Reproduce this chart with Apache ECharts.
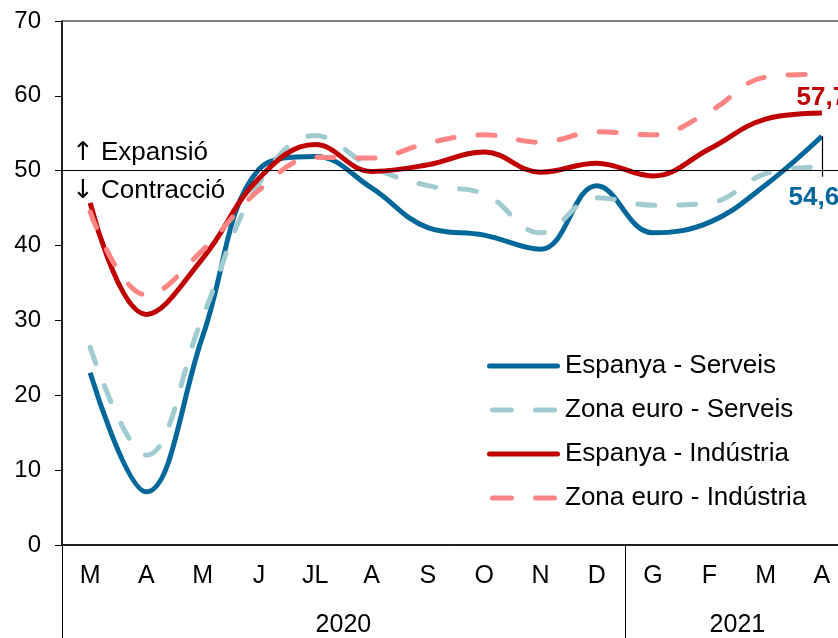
<!DOCTYPE html>
<html>
<head>
<meta charset="utf-8">
<script src="https://cdn.jsdelivr.net/npm/echarts@6/dist/echarts.min.js"></script>
<style>
  html, body { margin: 0; padding: 0; background: #fff; }
  #chart { width: 838px; height: 638px; }
</style>
</head>
<body>
<div id="chart"></div>
<script>
// mesos (març 2020 - abril 2021)
var months = ['M', 'A', 'M', 'J', 'JL', 'A', 'S', 'O', 'N', 'D', 'G', 'F', 'M', 'A'];
var years = ['2020', '2021'];
var monthsPerYear = [10, 4];

var espServeis = [23.0, 7.1, 27.9, 50.2, 51.9, 47.7, 42.4, 41.4, 39.5, 48.0, 41.7, 43.1, 48.1, 54.6];
var zonaServeis = [26.4, 12.0, 30.5, 48.3, 54.7, 50.5, 48.0, 46.9, 41.7, 46.4, 45.4, 45.7, 49.6, 50.5];
var espIndustria = [45.7, 30.8, 38.3, 49.0, 53.5, 49.9, 50.8, 52.5, 49.8, 51.0, 49.3, 52.9, 56.9, 57.7];
var zonaIndustria = [44.5, 33.4, 39.4, 47.4, 51.8, 51.7, 53.7, 54.8, 53.8, 55.2, 54.8, 57.9, 62.5, 62.9];

var yTicks = [0, 10, 20, 30, 40, 50, 60, 70];
var threshold = 50;

var FONT = '"Liberation Sans", Arial, sans-serif';

// legend icons: solid bar / two dashes
var ICON_SOLID = 'path://M2.5,0H70.5A2.5,2.5 0 0 1 70.5,5H2.5A2.5,2.5 0 0 1 2.5,0Z';
var ICON_DASH = 'path://M2.5,0H21.5A2.5,2.5 0 0 1 21.5,5H2.5A2.5,2.5 0 0 1 2.5,0Z' +
    'M45.5,0H64.5A2.5,2.5 0 0 1 64.5,5H45.5A2.5,2.5 0 0 1 45.5,0Z';

// year boundaries and centres, counted in months
var yearStart = [], yearCentre = {};
var acc = 0;
for (var i = 0; i < years.length; i++) {
    yearStart.push(acc);
    yearCentre[acc + monthsPerYear[i] / 2] = years[i];
    acc += monthsPerYear[i];
}

var last = months.length - 1;
var fmt = function (v) { return String(v).replace('.', ','); };

function endLabel(vals, lab) {
    return vals.map(function (v, i) {
        if (i !== last) return v;
        return { value: v, label: lab };
    });
}

var legendItems = [
    { name: 'Espanya - Serveis', icon: ICON_SOLID },
    { name: 'Zona euro - Serveis', icon: ICON_DASH },
    { name: 'Espanya - Indústria', icon: ICON_SOLID },
    { name: 'Zona euro - Indústria', icon: ICON_DASH }
];

var option = {
    animation: false,
    backgroundColor: '#fff',
    grid: {
        left: 62, top: 21, width: 788, height: 524,
        outerBoundsMode: 'none', containLabel: false,
        show: true, borderColor: '#000', borderWidth: 1, backgroundColor: 'transparent'
    },
    xAxis: [{
        type: 'category',
        data: months,
        boundaryGap: true,
        axisLine: { lineStyle: { color: '#000', width: 1.5 } },
        axisTick: {
            show: true,
            interval: function (idx) { return yearStart.indexOf(idx) >= 0; },
            length: 93,
            lineStyle: { color: '#000', width: 1 }
        },
        axisLabel: { color: '#000', fontFamily: FONT, fontSize: 25, margin: 19, interval: 0 },
        splitLine: { show: false }
    }, {
        type: 'value',
        position: 'bottom',
        min: 0, max: months.length, interval: 1,
        axisLine: { show: false },
        axisTick: { show: false },
        splitLine: { show: false },
        axisLabel: {
            color: '#000', fontFamily: FONT, fontSize: 25, margin: 68,
            showMinLabel: true, showMaxLabel: true,
            formatter: function (v) { return yearCentre[v] || ''; }
        }
    }],
    yAxis: {
        type: 'value',
        min: yTicks[0], max: yTicks[yTicks.length - 1], interval: 10,
        axisLine: { show: true, lineStyle: { color: '#000', width: 1.5 } },
        axisTick: { show: true, inside: false, length: 7, lineStyle: { color: '#000' } },
        axisLabel: { color: '#000', fontFamily: FONT, fontSize: 24, margin: 21 },
        splitLine: { show: false }
    },
    legend: {
        orient: 'vertical',
        left: 487, top: 353, padding: 0,
        itemWidth: 73, itemHeight: 5, itemGap: 18,
        textStyle: { color: '#000', fontFamily: FONT, fontSize: 26 },
        data: legendItems
    },
    graphic: [
        {
            type: 'text', left: 72, top: 140,
            style: {
                text: '{a|↑} Expansió', fontFamily: FONT, fontSize: 26, fill: '#000',
                rich: { a: { fontFamily: '"DejaVu Sans"', fontSize: 26, fill: '#000' } }
            }
        },
        {
            type: 'text', left: 72, top: 178,
            style: {
                text: '{a|↓} Contracció', fontFamily: FONT, fontSize: 26, fill: '#000',
                rich: { a: { fontFamily: '"DejaVu Sans"', fontSize: 26, fill: '#000' } }
            }
        }
    ],
    series: [{
        name: 'Espanya - Serveis',
        type: 'line', smooth: 0.4, symbol: 'circle', symbolSize: 0, showSymbol: true,
        lineStyle: { color: '#00679a', width: 5 },
        itemStyle: { color: '#00679a' },
        data: endLabel(espServeis, {
            show: true, position: 'inside', offset: [-8, 62],
            formatter: function (p) { return fmt(p.value); },
            color: '#00679a', fontFamily: FONT, fontSize: 26, fontWeight: 'bold'
        }),
        markLine: {
            silent: true, symbol: 'none', label: { show: false },
            lineStyle: { color: '#000', width: 1.2, type: 'solid' },
            data: [
                { yAxis: threshold },
                // leader line from the last point down to its label
                [{ coord: [last, espServeis[last]] }, { coord: [last, espServeis[last] - 5.4] }]
            ]
        },
        z: 2
    }, {
        name: 'Zona euro - Serveis',
        type: 'line', smooth: 0.4, symbol: 'none',
        lineStyle: { color: '#a0cbd0', width: 5, type: [17, 24], cap: 'round' },
        itemStyle: { color: '#a0cbd0' },
        data: zonaServeis,
        z: 3
    }, {
        name: 'Espanya - Indústria',
        type: 'line', smooth: 0.4, symbol: 'circle', symbolSize: 0, showSymbol: true,
        lineStyle: { color: '#c00000', width: 5 },
        itemStyle: { color: '#c00000' },
        data: endLabel(espIndustria, {
            show: true, position: 'top', distance: 2, formatter: function (p) { return fmt(p.value); },
            color: '#c00000', fontFamily: FONT, fontSize: 26, fontWeight: 'bold'
        }),
        z: 4
    }, {
        name: 'Zona euro - Indústria',
        type: 'line', smooth: 0.4, symbol: 'none',
        lineStyle: { color: '#ff8585', width: 5, type: [17, 24], cap: 'round' },
        itemStyle: { color: '#ff8585' },
        data: zonaIndustria,
        z: 5
    }]
};

var myChart = echarts.init(document.getElementById('chart'), null, { renderer: 'canvas' });
myChart.setOption(option);
</script>
</body>
</html>
